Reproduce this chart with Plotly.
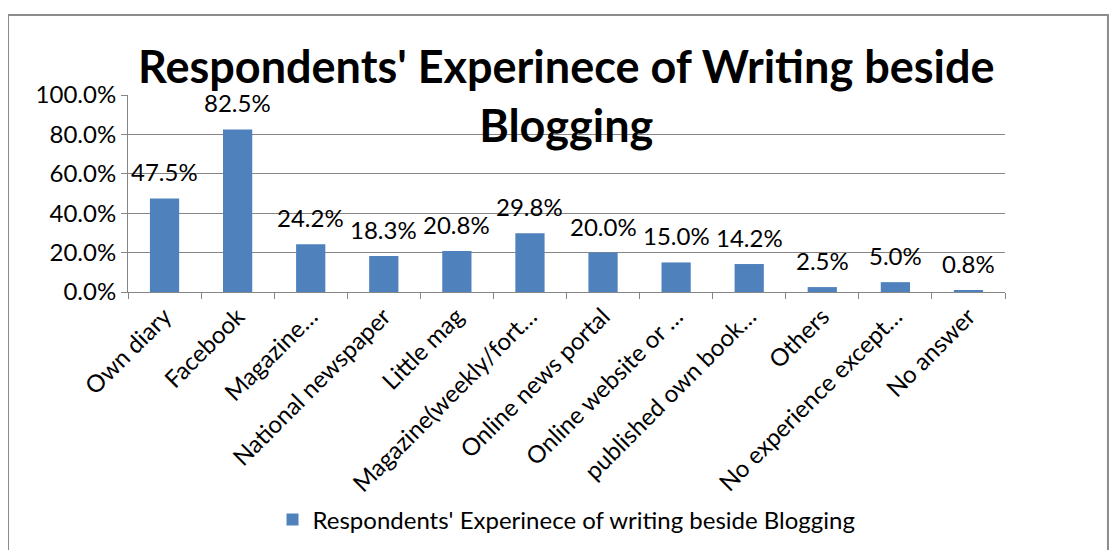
import plotly.graph_objects as go

categories = ["Own diary", "Facebook", "Magazine…", "National newspaper", "Little mag",
              "Magazine(weekly/fort…", "Online news portal", "Online website or …",
              "published own book…", "Others", "No experience except…", "No answer"]
values = [0.475, 0.825, 0.242, 0.183, 0.208, 0.298, 0.200, 0.150, 0.142, 0.025, 0.050, 0.008]
series_name = "Respondents' Experinece of writing beside Blogging"
title_text = "Respondents' Experinece of Writing beside<br>Blogging"

FONT = "Lato"
BLUE = "#4F81BD"
GRID = "#868686"
FS = 24

fig = go.Figure()
fig.add_trace(go.Bar(x=categories, y=values, name=series_name, marker_color=BLUE,
                     marker_line_width=0, width=0.4, showlegend=True))

for c, v in zip(categories, values):
    fig.add_annotation(x=c, y=v, text=f"{v*100:.1f}%", showarrow=False,
                       xref="x", yref="y", yanchor="bottom", yshift=10,
                       font=dict(family=FONT, size=FS, color="#000000"))

fig.add_annotation(x=0.5, y=1.0, xref="paper", yref="paper", text=title_text,
                   showarrow=False, yanchor="middle", xanchor="center",
                   font=dict(family=FONT, size=45, color="#000000", weight="bold"),
                   align="center")

fig.add_shape(type="rect", xref="paper", yref="paper",
              x0=-0.1368, x1=1.1174, y0=-1.5, y1=1.406,
              line=dict(color="#8c8c8c", width=2), fillcolor="rgba(0,0,0,0)", layer="below")

fig.update_layout(
    width=1112, height=542,
    margin=dict(l=120, r=115, t=87, b=258, autoexpand=False),
    paper_bgcolor="white", plot_bgcolor="white",
    font=dict(family=FONT, size=FS, color="#000000"),
    showlegend=True,
    legend=dict(orientation="h", x=0.5, xanchor="center", y=-1.157, yanchor="middle",
                font=dict(family=FONT, size=FS)),
    bargap=0.6,
)
fig.update_yaxes(range=[0, 1.0], dtick=0.2, tickformat=".1%", showgrid=True,
                 gridcolor=GRID, gridwidth=1, showline=True, linecolor=GRID, linewidth=1,
                 ticks="outside", ticklen=6, tickcolor=GRID, zeroline=False,
                 automargin=False, tickfont=dict(family=FONT, size=FS))
fig.update_xaxes(tickangle=-45, showline=True, linecolor=GRID, linewidth=1,
                 ticks="outside", ticklen=6, tickcolor=GRID, tickson="boundaries",
                 automargin=False, tickfont=dict(family=FONT, size=FS))

fig.write_html("out.html")
